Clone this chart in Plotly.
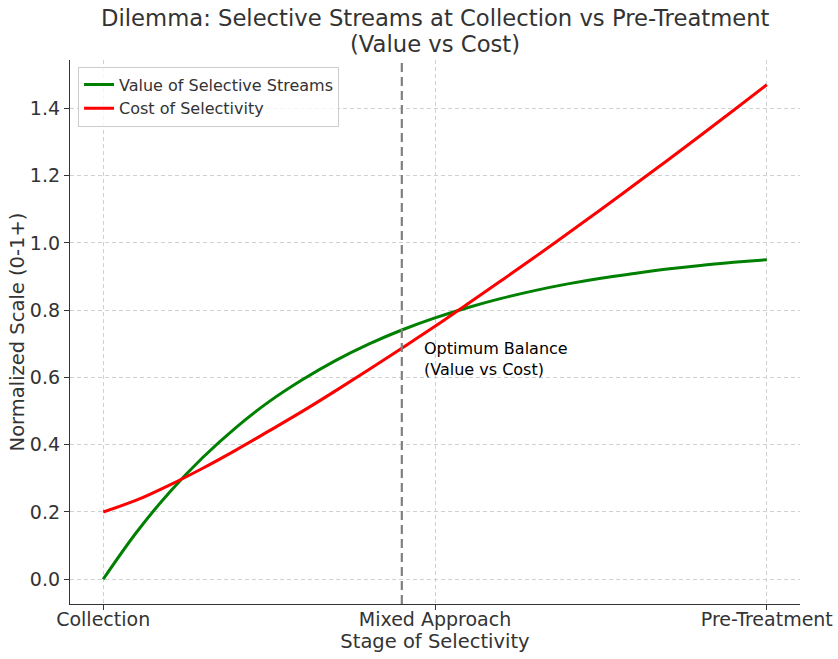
import plotly.graph_objects as go

# Data
stage = [0.0, 0.05, 0.1, 0.15, 0.2, 0.25, 0.3, 0.35, 0.4, 0.45, 0.5,
         0.55, 0.6, 0.65, 0.7, 0.75, 0.8, 0.85, 0.9, 0.95, 1.0]
value_selective = [0.0, 0.139, 0.259, 0.362, 0.451, 0.528, 0.593, 0.650, 0.699, 0.741, 0.777,
                   0.808, 0.835, 0.858, 0.878, 0.895, 0.909, 0.922, 0.933, 0.942, 0.950]
cost_selectivity = [0.200, 0.235, 0.280, 0.330, 0.384, 0.441, 0.499, 0.560, 0.623, 0.687, 0.752,
                    0.820, 0.888, 0.957, 1.028, 1.099, 1.172, 1.245, 1.319, 1.394, 1.470]
tick_positions = [0.0, 0.5, 1.0]
tick_labels = ["Collection", "Mixed Approach", "Pre-Treatment"]
y_ticks = [0.0, 0.2, 0.4, 0.6, 0.8, 1.0, 1.2, 1.4]
optimum_x = 0.45
note_x, note_y = 0.48, 0.6
title_lines = ["Dilemma: Selective Streams at Collection vs Pre-Treatment", "(Value vs Cost)"]

FONT = "DejaVu Sans"
TXT = "#333333"

fig = go.Figure()
fig.add_trace(go.Scatter(x=stage, y=value_selective, mode="lines",
                         name="Value of Selective Streams",
                         line=dict(color="green", width=3, shape="spline")))
fig.add_trace(go.Scatter(x=stage, y=cost_selectivity, mode="lines",
                         name="Cost of Selectivity",
                         line=dict(color="red", width=3, shape="spline")))

fig.add_shape(type="line", x0=optimum_x, x1=optimum_x, xref="x", y0=0, y1=1, yref="paper",
              line=dict(color="gray", width=2.2, dash="9px,5px"))

fig.add_annotation(x=note_x, y=note_y - 0.012, xref="x", yref="y",
                   text="Optimum Balance<br>(Value vs Cost)", showarrow=False,
                   xanchor="left", yanchor="bottom", align="left",
                   font=dict(family=FONT, size=16, color="black"))

# Title as two centered paper annotations
for line_text, py in zip(title_lines, [18, 44]):
    fig.add_annotation(x=0.5, y=(604 - py) / 544, xref="paper", yref="paper",
                       text=line_text, showarrow=False, xanchor="center", yanchor="middle",
                       font=dict(family=FONT, size=22.7, color=TXT))

fig.update_layout(
    width=838, height=659,
    margin=dict(l=70, r=38, t=60, b=55),
    paper_bgcolor="white", plot_bgcolor="white",
    font=dict(family=FONT, color=TXT),
    legend=dict(x=0.011, y=0.988, xanchor="left", yanchor="top",
                bgcolor="rgba(255,255,255,0.8)", bordercolor="#cccccc", borderwidth=1,
                font=dict(family=FONT, size=16, color=TXT)),
    showlegend=True,
)
fig.update_xaxes(range=[-0.05, 1.05], tickvals=tick_positions, ticktext=tick_labels,
                 automargin=False,
                 showgrid=True, gridcolor="#d0d0d0", griddash="4px,3px", gridwidth=1,
                 showline=True, linecolor=TXT, linewidth=1.3, ticks="outside", ticklen=5,
                 tickcolor=TXT, zeroline=False, ticklabelstandoff=-7,
                 tickfont=dict(family=FONT, size=19, color=TXT),
                 title=dict(text="Stage of Selectivity", font=dict(family=FONT, size=19.5, color=TXT),
                            standoff=0))
fig.update_yaxes(range=[-0.0735, 1.5435], tickvals=y_ticks, tickformat=".1f",
                 automargin=False,
                 showgrid=True, gridcolor="#d0d0d0", griddash="4px,3px", gridwidth=1,
                 showline=True, linecolor=TXT, linewidth=1.3, ticks="outside", ticklen=5,
                 tickcolor=TXT, zeroline=False,
                 tickfont=dict(family=FONT, size=19, color=TXT),
                 title=dict(text="Normalized Scale (0-1+)", font=dict(family=FONT, size=19.5, color=TXT),
                            standoff=0))

fig.write_html("out.html", config={"displayModeBar": False},
               post_script="document.body.style.margin='0';")
